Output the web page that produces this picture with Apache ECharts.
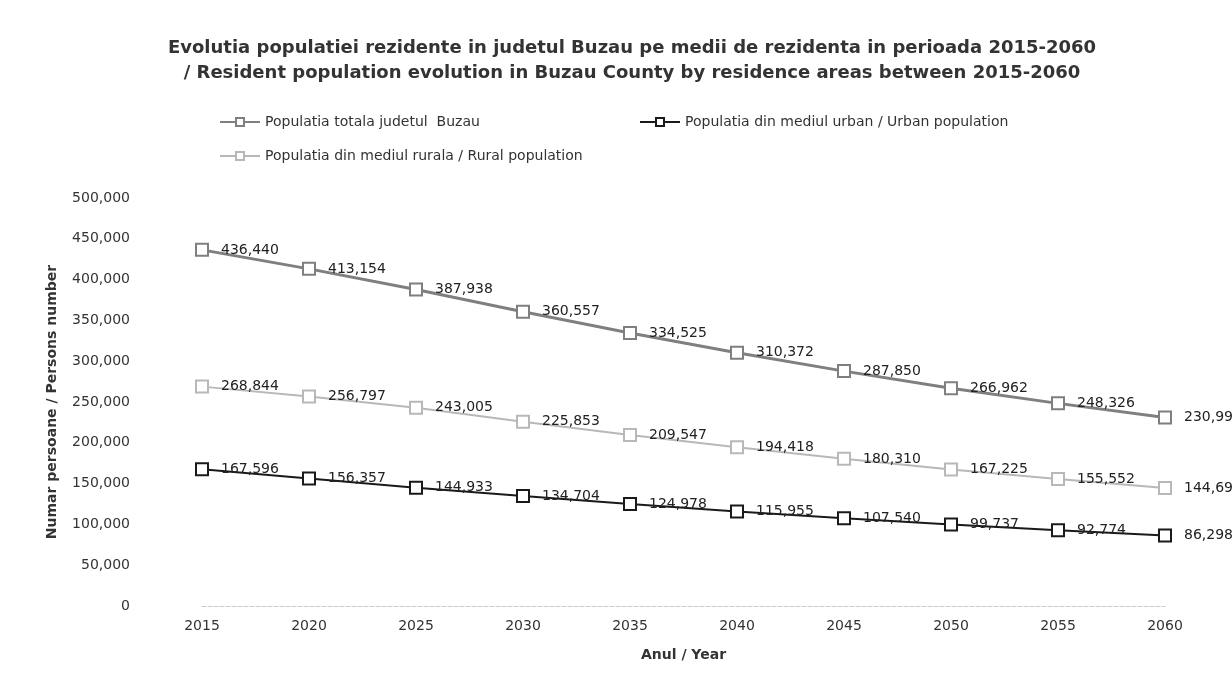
<!DOCTYPE html>
<html lang="ro">
  <head>
    <meta charset="UTF-8" />
    <title>Buzau</title>
    <script src="https://cdn.jsdelivr.net/npm/echarts@6/dist/echarts.min.js"></script>
    <style>
      html, body { margin: 0; padding: 0; background: #fff; }
    </style>
  </head>
  <body>
    <div id="main" style="width: 1232px; height: 687px"></div>
    <script>
      var years = ["2015", "2020", "2025", "2030", "2035", "2040", "2045", "2050", "2055", "2060"];
      var total = [436440, 413154, 387938, 360557, 334525, 310372, 287850, 266962, 248326, 230991];
      var urban = [167596, 156357, 144933, 134704, 124978, 115955, 107540, 99737, 92774, 86298];
      var rural = [268844, 256797, 243005, 225853, 209547, 194418, 180310, 167225, 155552, 144693];

      var font = "DejaVu Sans";
      function fmt(v) {
        return Number(v).toLocaleString("en-US");
      }
      // o serie = linie + patrat gol + eticheta la dreapta
      function mkSeries(name, data, color, width) {
        return {
          name: name,
          type: "line",
          data: data,
          symbol: "rect",
          symbolSize: 12,
          itemStyle: { color: "#fff", borderColor: color, borderWidth: 2 },
          lineStyle: { color: color, width: width },
          label: {
            show: true,
            position: "right",
            distance: 12,
            color: "#222",
            fontFamily: font,
            fontSize: 14,
            formatter: function (p) { return fmt(p.value); },
          },
        };
      }

      var legendText = { fontSize: 14, color: "#333", fontFamily: font };
      var myChart = echarts.init(document.getElementById("main"));
      var option = {
        animation: false,
        textStyle: { fontFamily: font },
        title: {
          text: "Evolutia populatiei rezidente in judetul Buzau pe medii de rezidenta in perioada 2015-2060\n/ Resident population evolution in Buzau County by residence areas between 2015-2060",
          left: 627,
          top: 31,
          textAlign: "center",
          textStyle: { fontSize: 18, fontWeight: "bold", color: "#333", lineHeight: 25, fontFamily: font },
        },
        legend: [
          { data: ["Populatia totala judetul  Buzau"], left: 214, top: 110, itemWidth: 40, itemHeight: 10, textStyle: legendText },
          { data: ["Populatia din mediul urban / Urban population"], left: 634, top: 110, itemWidth: 40, itemHeight: 10, textStyle: legendText },
          { data: ["Populatia din mediul rurala / Rural population"], left: 214, top: 144, itemWidth: 40, itemHeight: 10, textStyle: legendText },
        ],
        grid: { left: 202, right: 67, top: 198, bottom: 81 },
        xAxis: {
          type: "category",
          data: years,
          boundaryGap: false,
          name: "Anul / Year",
          nameLocation: "middle",
          nameGap: 42,
          nameTextStyle: { fontSize: 14, fontWeight: "bold", color: "#333" },
          axisLine: { show: true, lineStyle: { color: "#ccc", type: "dashed" } },
          axisTick: { show: false },
          axisLabel: { margin: 13, fontSize: 14, color: "#333" },
        },
        yAxis: {
          type: "value",
          min: 0,
          max: 500000,
          interval: 50000,
          name: "Numar persoane / Persons number",
          nameLocation: "middle",
          nameGap: 143,
          nameTextStyle: { fontSize: 14, fontWeight: "bold", color: "#333" },
          splitLine: { show: false },
          axisLine: { show: false },
          axisTick: { show: false },
          axisLabel: { margin: 72, fontSize: 14, color: "#333", formatter: fmt },
        },
        series: [
          mkSeries("Populatia totala judetul  Buzau", total, "#7f7f7f", 3),
          mkSeries("Populatia din mediul urban / Urban population", urban, "#1a1a1a", 2),
          mkSeries("Populatia din mediul rurala / Rural population", rural, "#b8b8b8", 2),
        ],
      };
      myChart.setOption(option);
    </script>
  </body>
</html>
